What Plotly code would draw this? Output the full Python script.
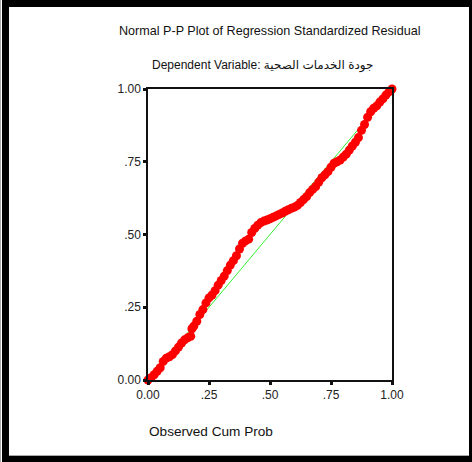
import plotly.graph_objects as go

# Observed cumulative probability (x) and expected cumulative probability (y)
observed_cum_prob = [
    0.000, 0.0125, 0.025, 0.0375, 0.05, 0.0625, 0.075, 0.0875, 0.10, 0.1125,
    0.125, 0.1375, 0.15, 0.1625, 0.175, 0.18, 0.1875, 0.20, 0.2125, 0.225,
    0.2375, 0.25, 0.2625, 0.275, 0.2875, 0.30, 0.3125, 0.325, 0.3375, 0.35,
    0.3625, 0.375, 0.3875, 0.40, 0.4125, 0.425, 0.4375, 0.45, 0.4625, 0.475,
    0.4875, 0.50, 0.5125, 0.525, 0.5375, 0.55, 0.5625, 0.575, 0.5875, 0.60,
    0.6125, 0.625, 0.6375, 0.65, 0.6625, 0.675, 0.6875, 0.70, 0.7125, 0.725,
    0.7375, 0.75, 0.7625, 0.775, 0.7875, 0.80, 0.8125, 0.825, 0.8375, 0.85,
    0.8625, 0.875, 0.8875, 0.90, 0.9125, 0.925, 0.9375, 0.95, 0.9625, 0.975,
    0.9875, 1.00,
]
expected_cum_prob = [
    0.000, 0.008, 0.018, 0.030, 0.042, 0.064, 0.075, 0.080, 0.087, 0.100,
    0.113, 0.127, 0.138, 0.145, 0.150, 0.176, 0.185, 0.202, 0.225, 0.242,
    0.265, 0.282, 0.292, 0.307, 0.326, 0.342, 0.357, 0.376, 0.395, 0.410,
    0.427, 0.450, 0.470, 0.478, 0.484, 0.507, 0.521, 0.532, 0.541, 0.546,
    0.550, 0.554, 0.559, 0.564, 0.569, 0.574, 0.580, 0.585, 0.590, 0.594,
    0.600, 0.610, 0.620, 0.630, 0.644, 0.655, 0.665, 0.680, 0.695, 0.705,
    0.716, 0.731, 0.745, 0.750, 0.756, 0.766, 0.776, 0.790, 0.804, 0.817,
    0.833, 0.858, 0.878, 0.903, 0.922, 0.934, 0.942, 0.955, 0.966, 0.979,
    0.990, 1.000,
]
reference_line_x = [0, 1]
reference_line_y = [0, 1]

tick_vals = [0, 0.25, 0.5, 0.75, 1.0]
tick_text = ["0.00", ".25", ".50", ".75", "1.00"]

title_text = "Normal P-P Plot of Regression Standardized Residual"
subtitle_text = "Dependent Variable: جودة الخدمات الصحية"
x_title_text = "Observed Cum Prob"

FONT = "Liberation Sans, Arial, DejaVu Sans, sans-serif"

fig = go.Figure()
fig.add_trace(go.Scatter(
    x=reference_line_x, y=reference_line_y, mode="lines",
    line=dict(color="#33ee33", width=1), hoverinfo="skip", showlegend=False,
))
fig.add_trace(go.Scatter(
    x=observed_cum_prob, y=expected_cum_prob, mode="markers",
    marker=dict(color="#ff0000", size=9, line=dict(width=0)),
    cliponaxis=False, showlegend=False,
))

axis_common = dict(
    range=[0, 1], tickvals=tick_vals, ticktext=tick_text,
    showgrid=False, zeroline=False, showline=True, linecolor="#111111",
    linewidth=1.5, mirror=True, ticks="outside", ticklen=3, tickwidth=3,
    tickcolor="#111111", tickfont=dict(family=FONT, size=12, color="#222222"),
)
fig.update_xaxes(**axis_common)
fig.update_yaxes(**axis_common)

# plot area in pixels: x 148..392, y 89..380
L, R, T, B = 148, 392, 89, 380
W, H = 472, 462
def px(v):
    return (v - L) / (R - L)
def py(v):
    return (B - v) / (B - T)

shapes = []
def rect(x0, y0, x1, y1, color):
    shapes.append(dict(type="rect", xref="paper", yref="paper",
                       x0=px(x0), x1=px(x1), y0=py(y1), y1=py(y0),
                       fillcolor=color, line=dict(width=0), layer="above"))
rect(2, 0, 9, H, "#000000")        # left
rect(2, 0, W, 7, "#000000")        # top
rect(469, 0, W, H, "#000000")      # right
rect(2, 456, W, H, "#000000")      # bottom
rect(0, 0, 1, H, "#aaaaaa")
rect(9, 455, 469, 456, "#aaaaaa")

annotations = [
    dict(text=title_text, x=px(269), y=py(31), xref="paper", yref="paper",
         showarrow=False, xanchor="center", yanchor="middle",
         font=dict(family=FONT, size=12.6, color="#111111")),
    dict(text=subtitle_text, x=px(262), y=py(65), xref="paper", yref="paper",
         showarrow=False, xanchor="center", yanchor="middle",
         font=dict(family=FONT, size=12, color="#111111")),
    dict(text=x_title_text, x=px(147), y=py(431), xref="paper", yref="paper",
         showarrow=False, xanchor="left", yanchor="middle",
         font=dict(family=FONT, size=13.6, color="#111111")),
]

fig.update_layout(
    width=W, height=H, autosize=False,
    margin=dict(l=L, r=W - R, t=T, b=H - B, pad=0),
    paper_bgcolor="white", plot_bgcolor="white",
    shapes=shapes, annotations=annotations, showlegend=False,
)

fig.write_html(
    "out.html",
    config={"displayModeBar": False},
    post_script="document.body.style.margin='0';document.body.style.overflow='hidden';",
)
